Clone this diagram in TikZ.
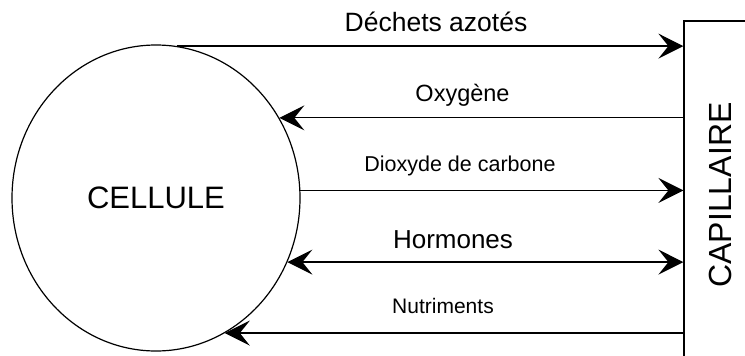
\documentclass[tikz,border=0pt]{standalone}
\usepackage{fontspec}
\setmainfont{Liberation Sans}
\usepackage{tikz}
\usetikzlibrary{
  arrows.meta,
  shapes.geometric,
  positioning,
  calc
}
\tikzset{
  cellnode/.style={
    draw, ellipse, line width=1.2pt, minimum width=288pt, minimum height=306pt,
    inner sep=0pt, font=\fontsize{31}{36}\selectfont
  },
  capbox/.style={
    draw, rectangle, line width=1.2pt, minimum width=72pt, minimum height=348pt,
    inner sep=0pt, font=\fontsize{32}{38}\selectfont
  },
  flow/.style={-{Stealth[length=25pt, width=25pt, inset=10pt]}, line width=1.2pt},
  flowboth/.style={{Stealth[length=25pt, width=25pt, inset=10pt]}-{Stealth[length=25pt, width=25pt, inset=10pt]}, line width=1.2pt},
  tag/.style={anchor=base, inner sep=0pt}
}

\begin{document}
\begin{tikzpicture}[x=1pt, y=-1pt]
  \useasboundingbox (0,0) rectangle (745,356);
  % cellule et capillaire
  \node[cellnode] (cell) at (156,198) {CELLULE};
  \node[capbox] (cap) at (720,195) {\rotatebox{90}{CAPILLAIRE}};
  % echanges
  \draw[flow] (cell.82) -- (cell.82 -| cap.west);
  \draw[flow] (cell.33.6 -| cap.west) -- (cell.33.6);
  \draw[flow] (cell.3.2) -- (cell.3.2 -| cap.west);
  \draw[flowboth] (cell.-26) -- (cell.-26 -| cap.west);
  \draw[flow] (cell.-63.3 -| cap.west) -- (cell.-63.3);
  % etiquettes
  \node[tag, font=\fontsize{26.5}{30}\selectfont] (dechets) at (436,31.7) {Déchets azotés};
  \node[tag, font=\fontsize{23.5}{28}\selectfont] (oxy) at (462.5,101.7) {Oxygène};
  \node[tag, font=\fontsize{21.5}{26}\selectfont] (co2) at (460,171.7) {Dioxyde de carbone};
  \node[tag, font=\fontsize{26}{30}\selectfont] (horm) at (453,248) {Hormones};
  \node[tag, font=\fontsize{21}{25}\selectfont] (nutri) at (443,313) {Nutriments};
\end{tikzpicture}
\end{document}
